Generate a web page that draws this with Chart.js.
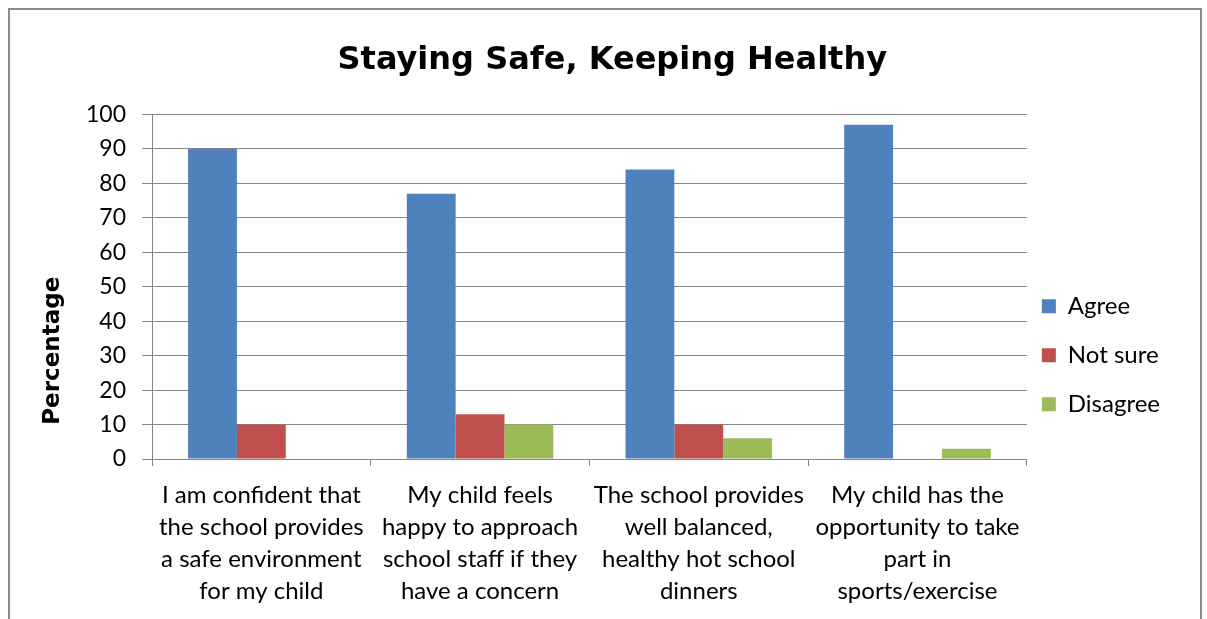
<!DOCTYPE html>
<html>
<head>
<meta charset="utf-8">
<script src="https://cdn.jsdelivr.net/npm/chart.js@4"></script>
<style>
  body { margin: 0; background: #fff; }
  #wrap { position: relative; width: 1207px; height: 619px; }
  #frame { position: absolute; left: 8px; top: 8px; width: 1194px; height: 640px; border: 2px solid #8c8c8c; box-sizing: border-box; }
  canvas { position: absolute; left: 0; top: 0; }
</style>
</head>
<body>
<div id="wrap">
  <div id="frame"></div>
  <canvas id="myChart" width="1207" height="619"></canvas>
</div>
<script>
const ctx = document.getElementById('myChart');

const categorias = [
  ['I am confident that', 'the school provides', 'a safe environment', 'for my child'],
  ['My child feels', 'happy to approach', 'school staff if they', 'have a concern'],
  ['The school provides', 'well balanced,', 'healthy hot school', 'dinners'],
  ['My child has the', 'opportunity to take', 'part in', 'sports/exercise']
]
const agree = [90, 77, 84, 97]
const notSure = [10, 13, 10, 0]
const disagree = [0, 10, 6, 3]
const yTicks = [0, 10, 20, 30, 40, 50, 60, 70, 80, 90, 100]

// pull the legend a bit closer to the plot
const legendNudge = {
  id: 'legendNudge',
  afterLayout: chart => {
    chart.legend.left -= 10
    chart.legend.right -= 10
  }
}

new Chart(ctx, {
  type: 'bar',
  data: {
    labels: categorias,
    datasets: [
      { label: 'Agree', data: agree, backgroundColor: '#4f81bd' },
      { label: 'Not sure', data: notSure, backgroundColor: '#c0504d' },
      { label: 'Disagree', data: disagree, backgroundColor: '#9bbb59' }
    ]
  },
  plugins: [legendNudge],
  options: {
    responsive: false,
    animation: false,
    layout: { padding: { left: 0, right: 27, top: 0, bottom: 0 } },
    datasets: { bar: { barPercentage: 1, categoryPercentage: 0.67 } },
    plugins: {
      title: {
        display: true,
        // leading spaces nudge the centred title right, like the original
        text: '    Staying Safe, Keeping Healthy',
        color: '#000',
        font: { family: 'DejaVu Sans', size: 32, weight: 'bold' },
        padding: { top: 41, bottom: 35 }
      },
      legend: {
        position: 'right',
        align: 'start',
        title: { display: true, text: ' ', padding: { top: 268, bottom: 0 }, font: { size: 1 } },
        labels: {
          color: '#000',
          font: { family: 'Lato', size: 24 },
          boxWidth: 14,
          boxHeight: 14,
          padding: 25
        }
      },
      tooltip: { enabled: false }
    },
    scales: {
      x: {
        grid: { drawOnChartArea: false, drawTicks: true, tickLength: 7, color: '#868686' },
        border: { color: '#868686' },
        ticks: { color: '#000', font: { family: 'Lato', size: 24, lineHeight: 1.333 }, maxRotation: 0, autoSkip: false, padding: 13 },
        afterFit: s => { s.height = 160 }
      },
      y: {
        min: 0,
        max: 100,
        afterBuildTicks: s => { s.ticks = yTicks.map(v => ({ value: v })) },
        grid: { color: '#868686', tickLength: 10 },
        border: { color: '#868686' },
        ticks: { color: '#000', font: { family: 'Lato', size: 23 }, padding: 16 },
        title: {
          display: true,
          text: 'Percentage                ',
          color: '#000',
          font: { family: 'DejaVu Sans', size: 23, weight: 'bold' },
          padding: { top: 39, bottom: 0 }
        },
        afterFit: s => { s.width = 152 }
      }
    }
  }
});
</script>
</body>
</html>
